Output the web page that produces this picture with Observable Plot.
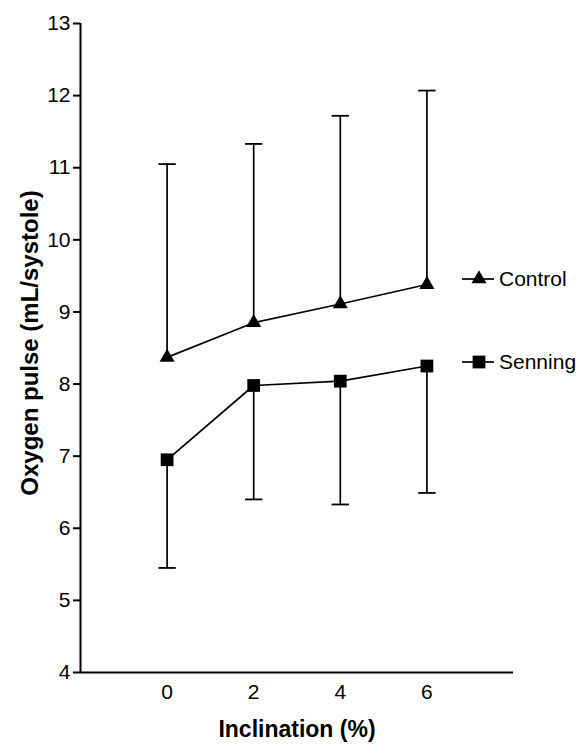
<!DOCTYPE html>
<html>
<head>
<meta charset="utf-8">
<script src="https://cdn.jsdelivr.net/npm/d3@7"></script>
<script src="https://cdn.jsdelivr.net/npm/@observablehq/plot@0.6"></script>
<style>
  body { margin: 0; background: white; }
  #wrap { position: relative; width: 586px; height: 744px; }
  #legend { position: absolute; left: 0; top: 0; pointer-events: none; }
</style>
</head>
<body>
<div id="wrap"></div>
<script>
const inclination = [0, 2, 4, 6];
const controlMean = [8.37, 8.85, 9.11, 9.38];
const controlUpper = [11.05, 11.33, 11.72, 12.07];
const senningMean = [6.95, 7.98, 8.04, 8.25];
const senningLower = [5.45, 6.40, 6.33, 6.49];
const seriesNames = ["Control", "Senning"];
const seriesSymbols = ["triangle", "square"];
const yTicks = [4, 5, 6, 7, 8, 9, 10, 11, 12, 13];
const xTicks = [0, 2, 4, 6];
const yTitle = "Oxygen pulse (mL/systole)";
const xTitle = "Inclination (%)";

const control = inclination.map((x, i) => ({x, mean: controlMean[i], err: controlUpper[i], series: "Control"}));
const senning = inclination.map((x, i) => ({x, mean: senningMean[i], err: senningLower[i], series: "Senning"}));
const all = control.concat(senning);

const font = "'Liberation Sans', Arial, Helvetica, sans-serif";
const capHalf = 0.2;

const chart = Plot.plot({
  width: 586,
  height: 744,
  marginLeft: 80,
  marginRight: 73,
  marginTop: 23,
  marginBottom: 72,
  style: {fontFamily: font, fontSize: "21px", color: "black", background: "white", overflow: "visible"},
  x: {domain: [-2, 8]},
  y: {domain: [4, 13]},
  marks: [
    Plot.axisY({ticks: yTicks, tickSize: 7, tickPadding: 3, tickFormat: d => String(d), label: null, fontSize: 21, strokeWidth: 2}),
    Plot.axisX({ticks: xTicks, tickSize: 0, tickPadding: 12, tickFormat: d => String(d), label: null, fontSize: 21}),
    Plot.ruleX([-2], {stroke: "black", strokeWidth: 2}),
    Plot.ruleY([4], {stroke: "black", strokeWidth: 2}),
    Plot.ruleX(all, {x: "x", y1: "mean", y2: "err", stroke: "black", strokeWidth: 1.7}),
    Plot.link(all, {x1: d => d.x - capHalf, x2: d => d.x + capHalf, y1: "err", y2: "err", stroke: "black", strokeWidth: 1.8}),
    Plot.line(control, {x: "x", y: "mean", stroke: "black", strokeWidth: 1.7}),
    Plot.line(senning, {x: "x", y: "mean", stroke: "black", strokeWidth: 1.7}),
    Plot.dot(control, {x: "x", y: "mean", symbol: "triangle", r: 5.6, fill: "black", stroke: "none"}),
    Plot.dot(senning, {x: "x", y: "mean", symbol: "square", r: 7.2, fill: "black", stroke: "none"}),
    Plot.text([yTitle], {frameAnchor: "left", rotate: -90, dx: -50, dy: -5, textAnchor: "middle", fontWeight: "bold", fontSize: 24, fill: "black", lineAnchor: "middle"}),
    Plot.text([xTitle], {frameAnchor: "bottom", dy: 57, textAnchor: "middle", fontWeight: "bold", fontSize: 23, fill: "black", lineAnchor: "middle"})
  ]
});

document.getElementById("wrap").appendChild(chart);

// Legend (right side)
const legendRows = [279, 362];
const svg = d3.select("#wrap").append("svg")
  .attr("id", "legend").attr("width", 586).attr("height", 744);
const symMap = {triangle: d3.symbolTriangle, square: d3.symbolSquare};
const symR = {triangle: 5.6, square: 7.2};
seriesNames.forEach((name, i) => {
  const g = svg.append("g").attr("transform", `translate(0,${legendRows[i]})`);
  g.append("line").attr("x1", 462).attr("x2", 494).attr("y1", 0).attr("y2", 0)
    .attr("stroke", "black").attr("stroke-width", 1.7);
  g.append("path").attr("transform", "translate(479,0)")
    .attr("d", d3.symbol(symMap[seriesSymbols[i]], Math.PI * symR[seriesSymbols[i]] ** 2)())
    .attr("fill", "black");
  g.append("text").attr("x", 499).attr("y", 0).attr("dy", "0.35em")
    .attr("font-family", font).attr("font-size", 21).attr("fill", "black").text(name);
});
</script>
</body>
</html>
